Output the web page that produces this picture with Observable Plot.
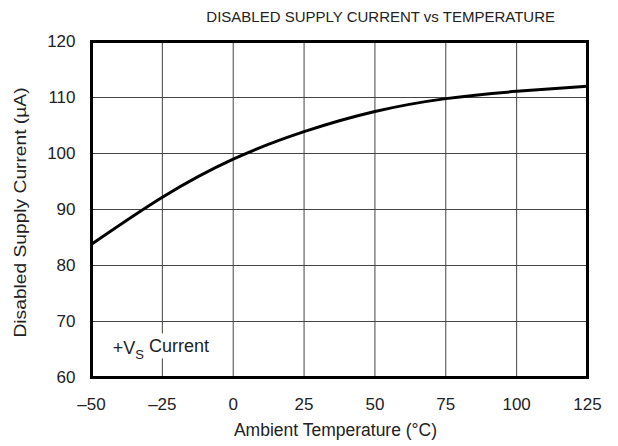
<!DOCTYPE html>
<html><head><meta charset="utf-8">
<script src="https://cdn.jsdelivr.net/npm/d3@7"></script>
<script src="https://cdn.jsdelivr.net/npm/@observablehq/plot@0.6"></script>
<style>
body{margin:0;background:#fff;font-family:"Liberation Sans",Arial,sans-serif;}
#wrap{position:relative;width:618px;height:446px;}
#title{position:absolute;right:63px;top:8px;font-size:15px;color:#222;white-space:nowrap;}
</style></head><body>
<div id="wrap"><div id="title">DISABLED SUPPLY CURRENT vs TEMPERATURE</div><div id="chart"></div></div>
<script>
const temperature = [-50, -25, 0, 25, 50, 75, 100, 125];
const current =     [83.8, 92.2, 99.0, 103.9, 107.5, 109.8, 111.1, 112.0];
const xTicks = [-50, -25, 0, 25, 50, 75, 100, 125];
const yTicks = [60, 70, 80, 90, 100, 110, 120];
const annotation = [{x: -42.5, y: 65.2, label: "+VS Current"}];

const data = temperature.map((t, i) => ({t, c: current[i]}));
const fmt = d => d < 0 ? "\u2013" + (-d) : String(d);

const chart = Plot.plot({
  width: 618, height: 446,
  marginLeft: 91, marginRight: 31, marginTop: 41, marginBottom: 69,
  style: {fontFamily: "'Liberation Sans', Arial, sans-serif", fontSize: "17px", color: "#222", background: "#fff", overflow: "visible"},
  x: {domain: [-50, 125]},
  y: {domain: [60, 120]},
  marks: [
    Plot.gridX(xTicks, {stroke: "#444", strokeOpacity: 1, strokeWidth: 1}),
    Plot.gridY(yTicks, {stroke: "#444", strokeOpacity: 1, strokeWidth: 1}),
    Plot.axisX(xTicks, {tickSize: 0, tickPadding: 20, tickFormat: fmt, label: null, fontSize: 17}),
    Plot.axisY(yTicks, {tickSize: 0, tickPadding: 16, label: null, fontSize: 17}),
    Plot.text(["Ambient Temperature (°C)"], {frameAnchor: "bottom", dy: 58, dx: -4, fontSize: 17.5, fill: "#222"}),
    Plot.text(["Disabled Supply Current (µA)"], {frameAnchor: "left", dx: -71, dy: 3, rotate: -90, textAnchor: "middle", fontSize: 17, fill: "#222", className: "ylab"}),
    Plot.text(annotation, {x: "x", y: "y", text: "label", textAnchor: "start", fontSize: 18, fill: "white", stroke: "white", strokeWidth: 14, className: "annot"}),
    Plot.text(annotation, {x: "x", y: "y", text: "label", textAnchor: "start", fontSize: 18, fill: "#222", className: "annot"}),
    Plot.line(data, {x: "t", y: "c", stroke: "black", strokeWidth: 3, curve: "natural"}),
    Plot.frame({stroke: "black", strokeWidth: 3})
  ]
});
document.getElementById("chart").appendChild(chart);

// subscript for +V_S
d3.select(chart).selectAll("g.annot text").each(function() {
  const t = d3.select(this);
  t.text(null);
  t.append("tspan").text("+V");
  t.append("tspan").attr("dy", "0.35em").attr("font-size", "13px").text("S");
  t.append("tspan").attr("dy", "-0.35em").text(" Current");
});
// slightly stretch the y-axis title along its reading direction as in the reference
d3.select(chart).selectAll("g.ylab text").each(function() {
  const tr = this.getAttribute("transform") || "";
  this.setAttribute("transform", tr + " scale(1.13,1)");
});
</script>
</body></html>
